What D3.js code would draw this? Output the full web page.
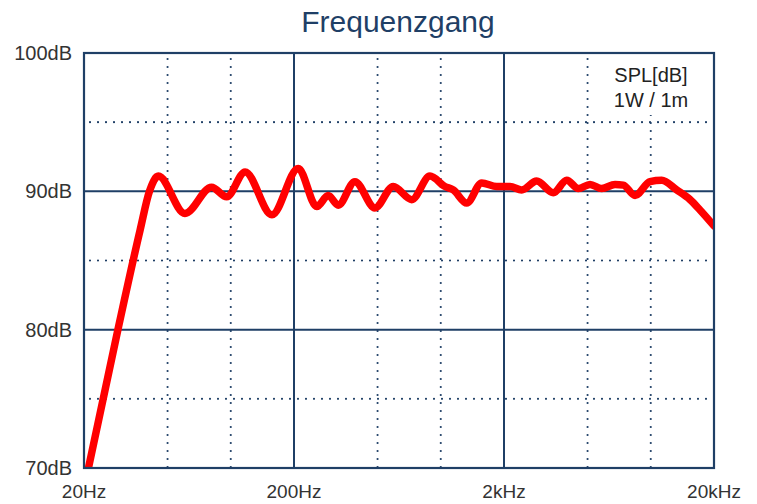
<!DOCTYPE html>
<html>
<head>
<meta charset="utf-8">
<script src="https://cdn.jsdelivr.net/npm/d3@7/dist/d3.min.js"></script>
<style>
  html, body { margin: 0; padding: 0; background: #ffffff; }
  svg { display: block; }
  text { font-family: "Liberation Sans", "Helvetica Neue", Arial, sans-serif; }
</style>
</head>
<body>
<svg id="chart" width="757" height="504"></svg>
<script>
// Frequency response measurement (Hz, dB SPL @ 1W / 1m)
const freqs = [21, 29, 37, 41, 45.2, 60.5, 81, 95.6, 117, 157,
  209.6, 256.6, 291, 325, 390, 486, 594, 727, 888, 1047,
  1147, 1329, 1566, 1846, 2136, 2428, 2862, 3436, 3978, 4518,
  5136, 5836, 6756, 7400, 8414, 9912, 11272, 13280, 15380, 17150, 20000];
const spl = [70, 80, 87.2, 90, 91.1, 88.4, 90.3, 89.6, 91.4, 88.3,
  91.65, 88.9, 89.7, 89.0, 90.7, 88.8, 90.35, 89.4, 91.1, 90.35,
  90.1, 89.15, 90.6, 90.35, 90.35, 90.1, 90.75, 89.9, 90.8, 90.2,
  90.5, 90.2, 90.5, 90.45, 89.7, 90.7, 90.8, 90.1, 89.4, 88.65, 87.5];

// Axis ticks
const majorFreqs = [20, 200, 2000, 20000];
const freqLabels = ["20Hz", "200Hz", "2kHz", "20kHz"];
const minorFreqs = [50, 100, 500, 1000, 5000, 10000];
const majorDb = [70, 80, 90, 100];
const dbLabels = ["70dB", "80dB", "90dB", "100dB"];
const minorDb = [75, 85, 95];

const titleText = "Frequenzgang";
const noteLines = ["SPL[dB]", "1W / 1m"];

const navy = "#1f3f66";
const plot = { left: 84, right: 714, top: 53, bottom: 468 };

const svg = d3.select("#chart");

const x = d3.scaleLog().domain([20, 20000]).range([plot.left, plot.right]);
const y = d3.scaleLinear().domain([70, 100]).range([plot.bottom, plot.top]);

// Title
svg.append("text")
  .attr("x", 398)
  .attr("y", 32)
  .attr("text-anchor", "middle")
  .attr("fill", navy)
  .style("font-size", "30px")
  .text(titleText);

// Minor dotted grid
const g = svg.append("g");
g.selectAll("line.vminor").data(minorFreqs).join("line")
  .attr("x1", d => x(d)).attr("x2", d => x(d))
  .attr("y1", plot.top + 6).attr("y2", plot.bottom)
  .attr("stroke", navy).attr("stroke-width", 2.2)
  .attr("stroke-linecap", "round")
  .attr("stroke-dasharray", "0 8");
g.selectAll("line.hminor").data(minorDb).join("line")
  .attr("x1", plot.left + 6).attr("x2", plot.right)
  .attr("y1", d => y(d)).attr("y2", d => y(d))
  .attr("stroke", navy).attr("stroke-width", 2.2)
  .attr("stroke-linecap", "round")
  .attr("stroke-dasharray", "0 8");

// Major solid grid
g.selectAll("line.vmajor").data(majorFreqs.slice(1, -1)).join("line")
  .attr("x1", d => x(d)).attr("x2", d => x(d))
  .attr("y1", plot.top).attr("y2", plot.bottom)
  .attr("stroke", navy).attr("stroke-width", 2);
g.selectAll("line.hmajor").data(majorDb.slice(1, -1)).join("line")
  .attr("x1", plot.left).attr("x2", plot.right)
  .attr("y1", d => y(d)).attr("y2", d => y(d))
  .attr("stroke", navy).attr("stroke-width", 2);

// Measurement note box
const note = svg.append("g");
note.append("rect")
  .attr("x", 600).attr("y", plot.top + 2)
  .attr("width", 108).attr("height", 60)
  .attr("fill", "#ffffff");
note.selectAll("text").data(noteLines).join("text")
  .attr("x", 651)
  .attr("y", (d, i) => 82 + i * 25)
  .attr("text-anchor", "middle")
  .attr("fill", "#222")
  .style("font-size", "20px")
  .text(d => d);

// Response curve
svg.append("clipPath").attr("id", "plotClip")
  .append("rect")
  .attr("x", plot.left).attr("y", plot.top)
  .attr("width", plot.right - plot.left).attr("height", plot.bottom - plot.top);

const line = d3.line()
  .x((d, i) => x(freqs[i]))
  .y(d => y(d))
  .curve(d3.curveMonotoneX);

svg.append("path")
  .datum(spl)
  .attr("clip-path", "url(#plotClip)")
  .attr("d", line)
  .attr("fill", "none")
  .attr("stroke", "#ff0000")
  .attr("stroke-width", 7.5)
  .attr("stroke-linejoin", "round")
  .attr("stroke-linecap", "round");

// Frame
svg.append("rect")
  .attr("x", plot.left).attr("y", plot.top)
  .attr("width", plot.right - plot.left).attr("height", plot.bottom - plot.top)
  .attr("fill", "none").attr("stroke", navy).attr("stroke-width", 2.2);

// Axis labels
svg.selectAll("text.ylab").data(majorDb).join("text")
  .attr("class", "ylab")
  .attr("x", 72)
  .attr("y", d => y(d))
  .attr("dy", "0.35em")
  .attr("text-anchor", "end")
  .attr("fill", "#333")
  .style("font-size", "20px")
  .text((d, i) => dbLabels[i]);

svg.selectAll("text.xlab").data(majorFreqs).join("text")
  .attr("class", "xlab")
  .attr("x", d => x(d))
  .attr("y", 498)
  .attr("text-anchor", "middle")
  .attr("fill", "#333")
  .style("font-size", "19px")
  .text((d, i) => freqLabels[i]);
</script>
</body>
</html>
